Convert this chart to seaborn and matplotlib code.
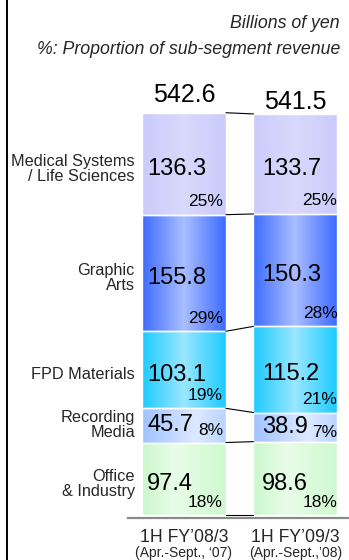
import numpy as np
import matplotlib
matplotlib.use("Agg")
import matplotlib.pyplot as plt
from matplotlib.colors import LinearSegmentedColormap
from matplotlib.lines import Line2D
import seaborn as sns

# Half-year periods
periods = ["1H FY\u201908/3", "1H FY\u201909/3"]
period_notes = ["(Apr.-Sept., \u201807)", "(Apr.-Sept.,\u201908)"]

# Sub-segments, bottom of the stack first
segments = ["Office\n& Industry", "Recording\nMedia", "FPD Materials",
            "Graphic\nArts", "Medical Systems\n/ Life Sciences"]

# Revenue (billions of yen) per sub-segment
revenue_08 = [97.4, 45.7, 103.1, 155.8, 136.3]
revenue_09 = [98.6, 38.9, 115.2, 150.3, 133.7]

# Share of sub-segment revenue (%)
share_08 = [18, 8, 19, 29, 25]
share_09 = [18, 7, 21, 28, 25]

# Segment totals
totals = [542.6, 541.5]

# Horizontal gradient stops (position, colour) for each sub-segment
gradients = [
    [(0.0, "#cbf7cb"), (0.4, "#e8fde8"), (1.0, "#d0f9d0")],
    [(0.0, "#9fc3ff"), (0.65, "#dde9ff"), (1.0, "#bad4ff")],
    [(0.0, "#1ccbff"), (0.5, "#9ae7ff"), (1.0, "#1ccbff")],
    [(0.0, "#3d6bff"), (0.5, "#aabfff"), (1.0, "#3d6bff")],
    [(0.0, "#cbcbfb"), (0.5, "#d9d9fd"), (1.0, "#cbcbfb")],
]

sns.set_theme(style="white")
plt.rcParams["font.family"] = ["Liberation Sans", "DejaVu Sans"]

W, H = 349, 560
fig = plt.figure(figsize=(W / 100, H / 100), dpi=100)
ax = fig.add_axes([128 / W, 42 / H, (W - 128) / W, 518 / H])

BAR_W = 0.753
px = 0.748  # pixels per billion yen
y_low = -3.5
y_high = y_low + 518 / px

rev = [revenue_08, revenue_09]
shares = [share_08, share_09]
bottoms = [np.concatenate([[0], np.cumsum(r)[:-1]]) for r in rev]

for i, seg in enumerate(segments):
    sns.barplot(x=periods, y=[revenue_08[i], revenue_09[i]],
                bottom=[bottoms[0][i], bottoms[1][i]],
                width=BAR_W, color=gradients[i][1][1], ax=ax,
                linewidth=0, saturation=1)

# Gradient fill inside each bar patch
grad = np.linspace(0, 1, 256).reshape(1, -1)
n_per = len(periods)
for k, patch in enumerate(ax.patches):
    seg_i = k // n_per
    cmap = LinearSegmentedColormap.from_list(f"g{k}", gradients[seg_i])
    x0, y0 = patch.get_x(), patch.get_y()
    w, h = patch.get_width(), patch.get_height()
    im = ax.imshow(grad, cmap=cmap, extent=[x0, x0 + w, y0, y0 + h],
                   aspect="auto", interpolation="bilinear", zorder=1)
    im.set_clip_path(patch)
    patch.set_facecolor("none")
    patch.set_edgecolor("white")
    patch.set_linewidth(1.0)
    patch.set_zorder(2)

ax.set_xlim(-0.502, 1.48)
ax.set_ylim(y_low, y_high)
ax.set_xticks([])
ax.set_yticks([])
ax.set_xlabel("")
ax.set_ylabel("")
for s in ["left", "right", "top"]:
    ax.spines[s].set_visible(False)
ax.spines["bottom"].set_color("#8a8a8a")
ax.spines["bottom"].set_linewidth(1.6)

half = BAR_W / 2
u = 1 / px  # one pixel in data units

# Connector lines between the stacks
lev0 = np.concatenate([[0], np.cumsum(revenue_08)])
lev1 = np.concatenate([[0], np.cumsum(revenue_09)])
for a, b in zip(lev0, lev1):
    ax.plot([half, 1 - half], [a, b], color="black", lw=0.8, zorder=3)

# Value and share labels
val_dx = [0.045, 0.076]
pct_dx = [-0.027, 0.0]
for j in range(2):
    for i in range(len(segments)):
        v = rev[j][i]
        b = bottoms[j][i]
        left = j - half + val_dx[j]
        right = j + half + pct_dx[j]
        if v < 60:
            vy = b + v / 2
            py = vy - 5 * u
        else:
            vy = b + v / 2 - 5 * u
            py = b + 13 * u
        ax.text(left, vy, f"{v:.1f}", ha="left", va="center",
                fontsize=17, color="black", zorder=4)
        ax.text(right, py, f"{shares[j][i]}%", ha="right", va="center",
                fontsize=12.5, color="black", zorder=4)

# Sub-segment names beside the first stack
for i, seg in enumerate(segments):
    v = revenue_08[i]
    b = bottoms[0][i]
    y = b + v / 2 - (5 * u if v >= 60 else 0)
    ax.text(-0.44, y, seg, ha="right", va="center", fontsize=11.7,
            linespacing=1.0, clip_on=False)

# Totals above each stack
tot_dy = [11, 4.7]
for j, t in enumerate(totals):
    top = lev0[-1] if j == 0 else lev1[-1]
    ax.text(j, top + tot_dy[j] * u / 0.748 * px, f"{t:.1f}", ha="center",
            va="baseline", fontsize=18, color="black")

# Period labels under the axis
for j in range(2):
    ax.text(j, -22 * u, periods[j], ha="center", va="center",
            fontsize=12.7, clip_on=False)
    ax.text(j, -38 * u, period_notes[j], ha="center", va="center",
            fontsize=10, clip_on=False)

# Unit notes
fig.text(340 / W, 1 - 28.5 / H, "Billions of yen", ha="right",
         va="baseline", fontsize=12.8, style="italic")
fig.text(340 / W, 1 - 53.5 / H, "%: Proportion of sub-segment revenue",
         ha="right", va="baseline", fontsize=12.8, style="italic")

# Frame line on the left edge
fig.add_artist(Line2D([7.5 / W, 7.5 / W], [0, 1], color="black", lw=1.4,
                      transform=fig.transFigure))

fig.savefig("out.png", dpi=100)
